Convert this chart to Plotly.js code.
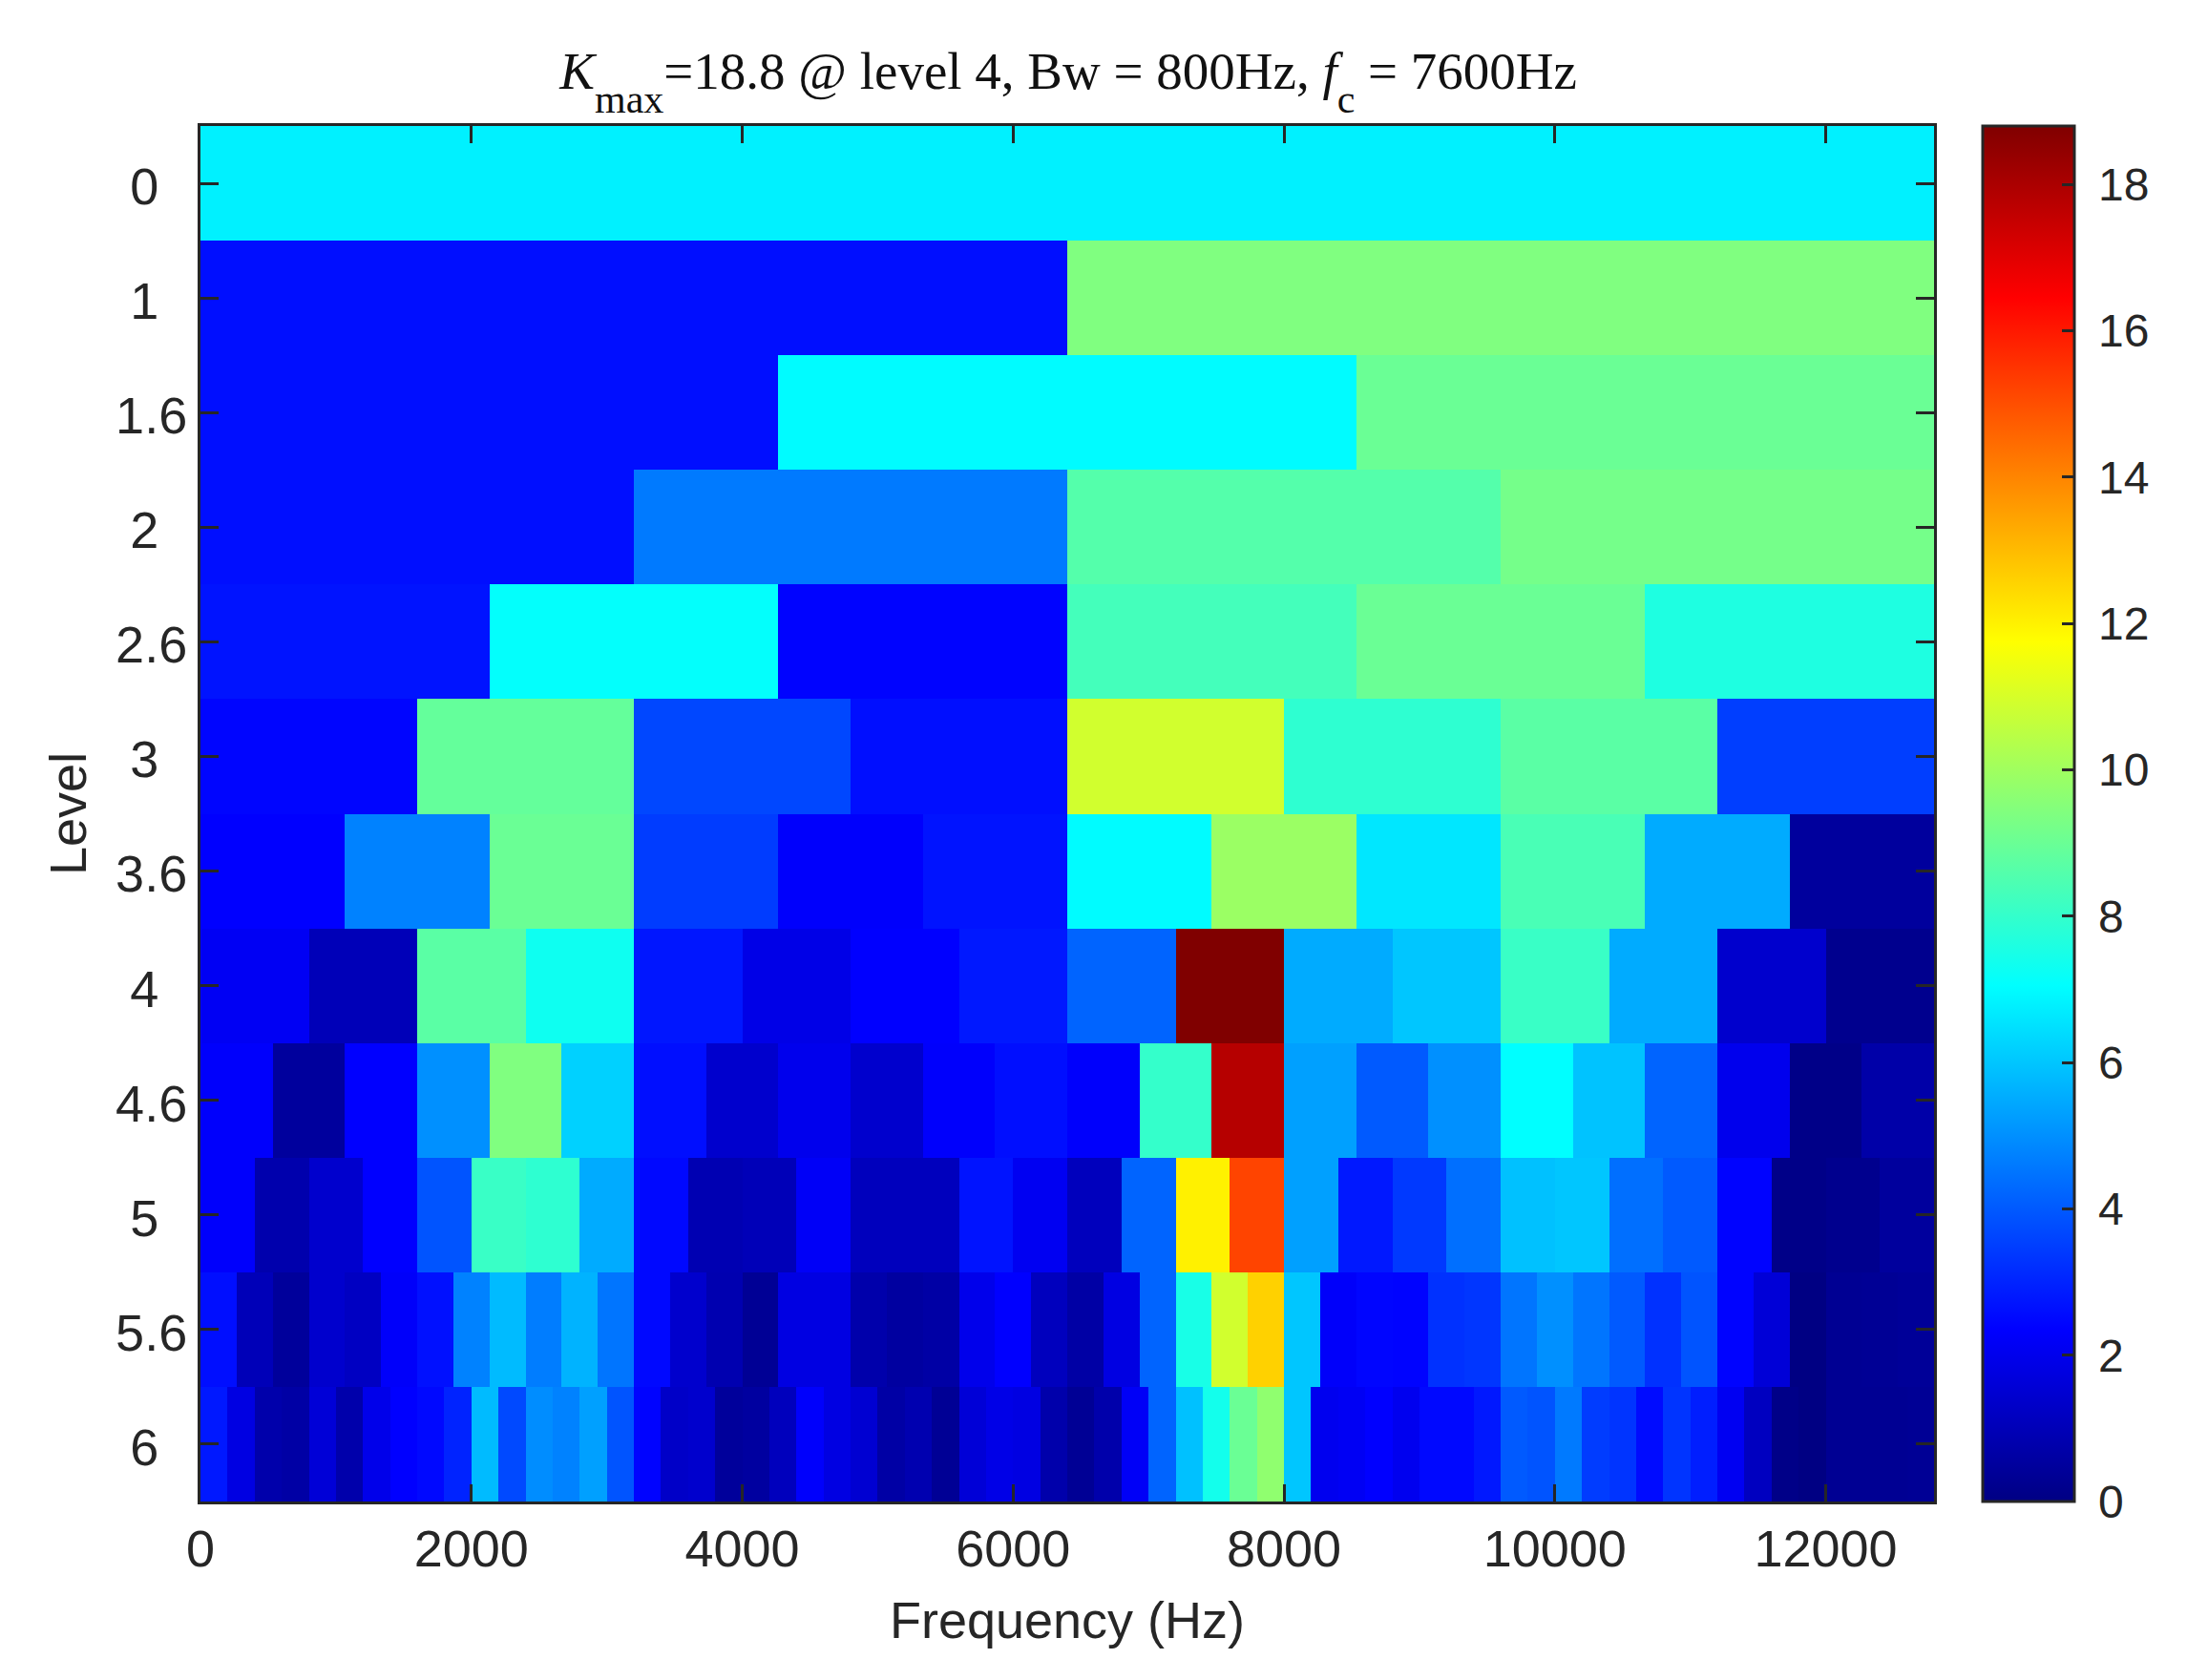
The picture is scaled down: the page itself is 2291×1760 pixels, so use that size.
<!DOCTYPE html>
<html>
<head>
<meta charset="utf-8">
<script src="https://cdn.plot.ly/plotly-3.0.1.min.js"></script>
<style>body{margin:0;background:#fff}</style>
</head>
<body>
<div id="chart" style="width:2291px;height:1760px"></div>
<script>
const levels = ['0', '1', '1.6', '2', '2.6', '3', '3.6', '4', '4.6', '5', '5.6', '6'];
const xTicks = [0, 2000, 4000, 6000, 8000, 10000, 12000];
const cbTicks = [0, 2, 4, 6, 8, 10, 12, 14, 16, 18];

// kurtosis per frequency band, one array per level (bands span 0-12800 Hz evenly)
const lv0 = [6.8];
const lv1 = [2.6, 9.4];
const lv1_6 = [2.6, 7.0, 9.0];
const lv2 = [2.6, 4.6, 8.6, 9.2];
const lv2_6 = [2.7, 7.1, 2.4, 8.3, 9.0, 7.6];
const lv3 = [2.45, 8.9, 3.65, 2.6, 10.9, 7.9, 8.7, 3.5];
const lv3_6 = [2.35, 4.75, 9.0, 3.45, 2.3, 2.7, 7.0, 9.9, 6.6, 8.4, 5.5, 0.5];
const lv4 = [2.15, 1.0, 8.7, 7.3, 2.75, 1.9, 2.35, 2.8, 4.2, 18.8, 5.5, 6.0, 8.1, 5.5, 1.4, 0.2];
const lv4_6 = [2.3, 0.5, 2.35, 5.0, 9.4, 6.2, 2.6, 1.4, 2.0, 1.4, 2.3, 2.6,
  2.3, 8.0, 17.8, 5.3, 4.0, 5.0, 7.05, 5.95, 4.2, 2.0, 0.1, 0.7];
const lv5 = [2.3, 0.8, 1.4, 2.35, 3.9, 8.1, 7.9, 5.5, 2.5, 0.9, 1.0, 2.2, 1.1, 1.1, 2.7, 2.1,
  1.1, 4.2, 12.0, 15.2, 5.3, 2.8, 3.4, 4.4, 5.9, 6.0, 4.4, 4.0, 2.4, 0.1, 0.2, 0.5];
const lv5_6 = [2.6, 1.0, 0.45, 1.4, 1.2, 2.25, 2.65, 4.75, 5.8, 4.65, 5.65, 4.5,
  2.5, 1.4, 0.85, 0.35, 1.8, 1.8, 0.75, 0.55, 0.65, 1.97, 2.35, 1.12,
  0.65, 1.8, 4.2, 7.5, 10.9, 12.6, 6.0, 2.25, 2.45, 2.4, 3.25, 3.35,
  4.5, 5.0, 4.5, 4.0, 3.25, 3.9, 2.4, 1.6, 0.0, 0.3, 0.35, 0.4];
const lv6 = [2.8, 1.8, 0.75, 0.65, 1.6, 0.75, 1.95, 2.35, 2.5, 3.0, 5.8, 3.7, 4.95, 4.75, 5.3, 3.9,
  2.4, 1.3, 1.4, 0.45, 0.55, 1.1, 2.3, 1.8, 1.5, 0.65, 0.85, 0.35, 1.6, 1.9, 1.8, 0.75,
  0.35, 0.75, 2.2, 4.2, 5.9, 7.4, 9.0, 9.7, 6.0, 2.05, 2.15, 2.35, 2.05, 2.5, 2.5, 2.8,
  4.0, 3.9, 4.6, 3.45, 3.3, 2.55, 3.3, 2.9, 2.1, 1.15, 0.1, 0.0, 0.3, 0.3, 0.3, 0.35];

const rows = [lv0, lv1, lv1_6, lv2, lv2_6, lv3, lv3_6, lv4, lv4_6, lv5, lv5_6, lv6];

// 192 columns fits every band count, so each row just repeats its values
const nCols = 192;
const z = rows.map(r => r.flatMap(v => Array(nCols / r.length).fill(v)));

const jet = [
  [0, 'rgb(0,0,131)'],
  [0.125, 'rgb(0,0,255)'],
  [0.375, 'rgb(0,255,255)'],
  [0.625, 'rgb(255,255,0)'],
  [0.875, 'rgb(255,0,0)'],
  [1, 'rgb(128,0,0)']
];

const axisColor = '#262626';
const font = {family: '"Liberation Sans", Arial, sans-serif', size: 54, color: axisColor};

const trace = {
  type: 'heatmap',
  z: z,
  x0: 12800 / nCols / 2,
  dx: 12800 / nCols,
  y0: 0,
  dy: 1,
  zmin: 0,
  zmax: 18.8,
  colorscale: jet,
  colorbar: {
    x: 1.028,
    xanchor: 'left',
    y: 0.5,
    len: 1,
    thickness: 96,
    xpad: 0,
    ypad: 0,
    outlinecolor: axisColor,
    outlinewidth: 3,
    tickvals: cbTicks,
    ticktext: cbTicks.map(t => '\u00a0' + t),
    ticks: 'inside',
    ticklen: 14,
    tickwidth: 3,
    tickcolor: axisColor,
    tickfont: {family: font.family, size: 48, color: axisColor}
  }
};

const sub = s => '<span style="font-size:120px"><sub><span style="font-size:42px">' + s + '</span></sub></span>';

const layout = {
  width: 2291,
  height: 1760,
  paper_bgcolor: '#fff',
  plot_bgcolor: '#fff',
  font: font,
  margin: {l: 210, r: 265, t: 132, b: 187},
  title: {
    text: '<i>K</i>' + sub('max') + '=18.8 @ level 4, Bw = 800Hz, <i>f</i>' + sub('c') + ' = 7600Hz',
    font: {family: '"Liberation Serif", "Times New Roman", serif', size: 55, color: '#111'},
    x: 0.4885,
    xanchor: 'center',
    y: 0.958,
    yanchor: 'middle'
  },
  xaxis: {
    range: [0, 12800],
    tickvals: xTicks,
    tickformat: 'd',
    ticks: 'inside',
    ticklen: 18,
    tickwidth: 3,
    tickcolor: axisColor,
    showline: true,
    linecolor: axisColor,
    linewidth: 3,
    mirror: 'ticks',
    showgrid: false,
    zeroline: false,
    title: {text: 'Frequency (Hz)', font: font, standoff: 28}
  },
  yaxis: {
    range: [11.5, -0.5],
    tickvals: levels.map((_, i) => i),
    // single-character labels sit two spaces in from the right, as in the reference
    ticktext: levels.map(l => l.length === 1 ? l + '\u00a0\u00a0' : l),
    ticklabelshift: -3,
    ticks: 'inside',
    ticklen: 19,
    tickwidth: 3,
    tickcolor: axisColor,
    showline: true,
    linecolor: axisColor,
    linewidth: 3,
    mirror: 'ticks',
    showgrid: false,
    zeroline: false,
    title: {text: 'Level', font: font, standoff: 14}
  }
};

Plotly.newPlot('chart', [trace], layout, {displayModeBar: false});
</script>
</body>
</html>
